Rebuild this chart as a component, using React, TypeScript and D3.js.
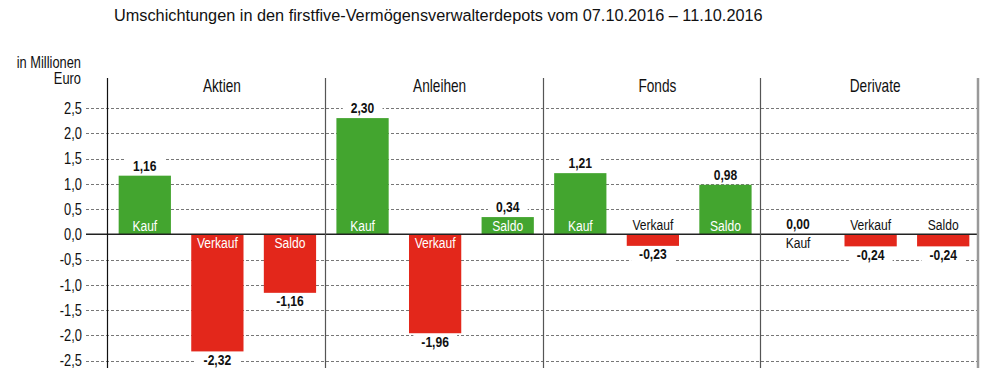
import React, { useEffect, useRef } from 'react'
import * as d3 from 'd3'

const title = 'Umschichtungen in den firstfive-Vermögensverwalterdepots vom 07.10.2016 – 11.10.2016'
const yTitle = ['in Millionen', 'Euro']
const groups = ['Aktien', 'Anleihen', 'Fonds', 'Derivate']
const kinds = ['Kauf', 'Verkauf', 'Saldo']
const aktien = [1.16, -2.32, -1.16]
const anleihen = [2.3, -1.96, 0.34]
const fonds = [1.21, -0.23, 0.98]
const derivate = [0.0, -0.24, -0.24]
const yTicks = [2.5, 2.0, 1.5, 1.0, 0.5, 0.0, -0.5, -1.0, -1.5, -2.0, -2.5]

const GREEN = '#43a52f'
const RED = '#e3271b'
const SANS = '"Liberation Sans", Arial, sans-serif'
const SQUEEZE = 0.78 // the original uses a condensed face

const de = d3.formatLocale({ decimal: ',', thousands: '.', grouping: [3], currency: ['', ' €'], minus: '-' })
const fmtVal = de.format('.2f')
const fmtTick = de.format('.1f')

// condensed text: regular face squeezed horizontally
function narrowText(parent: any, x: number, y: number, txt: string, size: number, anchor = 'middle', fill = '#111', weight = 'normal') {
  const g = parent.append('g').attr('transform', `translate(${x},${y}) scale(${SQUEEZE},1)`)
  const t = g.append('text').attr('x', 0).attr('y', 0).attr('text-anchor', anchor)
    .attr('font-family', SANS).attr('font-size', size).attr('font-weight', weight).attr('fill', fill).text(txt)
  return { g, t }
}

export default function App() {
  const ref = useRef<SVGSVGElement>(null)

  useEffect(() => {
    const svg = d3.select(ref.current)
    svg.selectAll('*').remove()

    const left = 107, right = 978, top = 78, bottom = 368
    const series = [aktien, anleihen, fonds, derivate]
    const rows = groups.flatMap((g, gi) => kinds.map((k, ki) => ({ group: g, kind: k, value: series[gi][ki] })))

    const y = d3.scaleLinear().domain([-2.5, 2.5]).range([360.5, 108])
    const xGroup = d3.scaleBand().domain(groups).range([left, right]).paddingInner(0).paddingOuter(0)
    const xKind = d3.scaleBand().domain(kinds).range([1.5, xGroup.bandwidth() + 1.5]).paddingInner(0.28).paddingOuter(0.14)
    const y0 = y(0)

    // title
    svg.append('text').attr('x', 114).attr('y', 21).attr('font-family', SANS).attr('font-size', 16.3)
      .attr('fill', '#111').text(title)

    // y title
    narrowText(svg, 81, 68, yTitle[0], 16.5, 'end')
    narrowText(svg, 81, 84, yTitle[1], 16.5, 'end')

    // grid + tick labels
    const grid = svg.append('g')
    grid.selectAll('line').data(yTicks.filter(t => t !== 0)).enter().append('line')
      .attr('x1', 86).attr('x2', right).attr('y1', d => Math.round(y(d)) + 0.5).attr('y2', d => Math.round(y(d)) + 0.5)
      .attr('stroke', '#777').attr('stroke-width', 1).attr('stroke-dasharray', '3,2')
    yTicks.forEach(t => narrowText(grid, 82, y(t) + 5.8, fmtTick(t), 16.5, 'end'))

    // group headers
    groups.forEach(gname => narrowText(svg, (xGroup(gname) as number) + xGroup.bandwidth() / 2 + 6, 92, gname, 17.5))

    // value labels with white backing (drawn under the bars)
    const vg = svg.append('g')
    const bx = (d: any) => (xGroup(d.group) as number) + (xKind(d.kind) as number)
    rows.forEach(d => {
      const cx = bx(d) + xKind.bandwidth() / 2
      const ty = d.value >= 0 ? y(d.value) - 5 : y(d.value) + 13.5
      const { g, t } = narrowText(vg, cx, ty, fmtVal(d.value), 15.5, 'middle', '#111', 'bold')
      const bb = (t.node() as SVGTextElement).getBBox()
      const pad = 8 / SQUEEZE
      g.insert('rect', 'text').attr('x', bb.x - pad).attr('y', -12).attr('width', bb.width + 2 * pad)
        .attr('height', 15).attr('fill', '#fff')
    })

    // bars
    svg.append('g').selectAll('rect').data(rows).enter().append('rect')
      .attr('x', d => bx(d)).attr('width', xKind.bandwidth())
      .attr('y', d => Math.min(y(d.value), y0)).attr('height', d => Math.abs(y(d.value) - y0))
      .attr('fill', d => d.value > 0 ? GREEN : RED)

    // category labels: inside the bar when it is tall enough, else on the other side of zero
    const cg = svg.append('g')
    rows.forEach(d => {
      const inside = Math.abs(y(d.value) - y0) >= 15
      const pos = d.value >= 0
      const ty = inside ? (pos ? y0 - 3 : y0 + 14) : (pos ? y0 + 14 : y0 - 4)
      narrowText(cg, bx(d) + xKind.bandwidth() / 2, ty, d.kind, 15.5, 'middle', inside ? '#fff' : '#111')
    })

    // zero line
    svg.append('line').attr('x1', 86).attr('x2', right).attr('y1', y0).attr('y2', y0)
      .attr('stroke', '#222').attr('stroke-width', 1.4)

    // vertical lines
    svg.append('line').attr('x1', left + 0.5).attr('x2', left + 0.5).attr('y1', top).attr('y2', bottom)
      .attr('stroke', '#111').attr('stroke-width', 1.2)
    svg.append('g').selectAll('line').data(groups.slice(1)).enter().append('line')
      .attr('x1', d => Math.round(xGroup(d) as number) + 0.5).attr('x2', d => Math.round(xGroup(d) as number) + 0.5)
      .attr('y1', top).attr('y2', bottom).attr('stroke', '#555').attr('stroke-width', 1.2)
    svg.append('line').attr('x1', right).attr('x2', right).attr('y1', top).attr('y2', bottom)
      .attr('stroke', '#999').attr('stroke-width', 2.5)
  }, [])

  return (
    <div style={{ position: 'absolute', left: 0, top: 0 }}>
      <svg ref={ref} width={1004} height={384} style={{ display: 'block', background: '#fff' }} />
    </div>
  )
}
